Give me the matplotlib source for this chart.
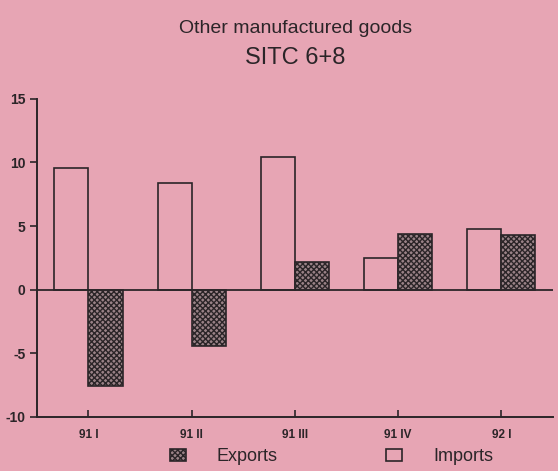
import matplotlib.pyplot as plt
import numpy as np

# Data (percentage change)
quarters = ['91 I', '91 II', '91 III', '91 IV', '92 I']
imports = [9.6, 8.4, 10.4, 2.5, 4.8]
exports = [-7.6, -4.4, 2.2, 4.4, 4.3]

bg = '#e7a5b4'
ink = '#2b2528'
plt.rcParams['font.family'] = ['Liberation Sans', 'DejaVu Sans']
plt.rcParams['axes.unicode_minus'] = False
plt.rcParams['hatch.color'] = '#3a3034'
plt.rcParams['hatch.linewidth'] = 1.0

fig = plt.figure(figsize=(5.58, 4.71), dpi=100, facecolor=bg)
ax = fig.add_axes([0.066, 0.115, 0.925, 0.675], facecolor=bg)

x = np.arange(len(quarters))
w = 0.33
b_imp = ax.bar(x - w / 2, imports, w, facecolor=bg, edgecolor=ink, linewidth=1.2,
               label='Imports')
b_exp = ax.bar(x + w / 2, exports, w, facecolor='#9a8287', edgecolor=ink, linewidth=1.2,
               hatch='xxxxxx', label='Exports')

ax.axhline(0, color=ink, linewidth=1.3)
ax.set_xlim(-0.5, 4.5)
ax.set_ylim(-10, 15)
ax.set_yticks([-10, -5, 0, 5, 10, 15])
ax.set_xticks(x)
ax.set_xticklabels(quarters)
for s in ['top', 'right']:
    ax.spines[s].set_visible(False)
for s in ['left', 'bottom']:
    ax.spines[s].set_color(ink)
    ax.spines[s].set_linewidth(1.4)
ax.tick_params(axis='y', direction='out', length=5, width=1.2, color=ink,
               labelsize=10, labelcolor=ink, pad=3)
ax.tick_params(axis='x', direction='in', length=5, width=1.2, color=ink,
               labelsize=8.5, labelcolor=ink, pad=9)
for lab in ax.get_xticklabels() + ax.get_yticklabels():
    lab.set_fontweight('bold')

fig.text(0.529, 0.94, 'Other manufactured goods', ha='center', va='center',
         fontsize=14, color=ink)
fig.text(0.529, 0.877, 'SITC 6+8', ha='center', va='center', fontsize=17, color=ink)

fig.legend(handles=[b_exp, b_imp], labels=['Exports', 'Imports'], loc='center',
           bbox_to_anchor=(0.594, 0.03), ncol=2, frameon=False, fontsize=13,
           handlelength=0.9, handleheight=0.6, handletextpad=1.7, columnspacing=6,
           labelcolor=ink)

fig.savefig('out.png', dpi=100, facecolor=bg)
